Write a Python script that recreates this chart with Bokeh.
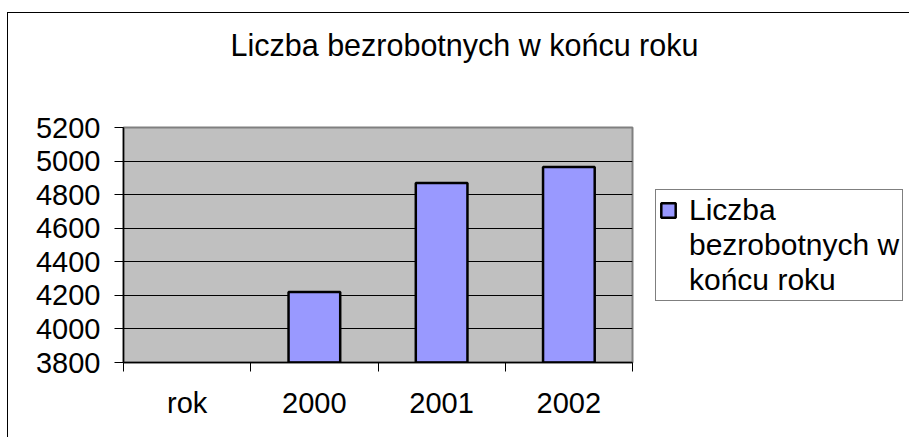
from bokeh.plotting import figure
from bokeh.models import FixedTicker, Legend, LegendItem, ColumnDataSource, Title, LinearAxis
from bokeh.embed import file_html
from bokeh.resources import INLINE

title_text = "Liczba bezrobotnych w końcu roku"
categories = ["rok", "2000", "2001", "2002"]
values = [None, 4220, 4870, 4965]
series_lines = ["Liczba", "bezrobotnych w", "końcu roku"]
y_ticks = [3800, 4000, 4200, 4400, 4600, 4800, 5000, 5200]

FONT = "Liberation Sans"
FS = "29px"
FS_BIG = "30px"
FS_TITLE = "30.5px"

xs = [i + 0.5 for i, v in enumerate(values) if v is not None]
tops = [v for v in values if v is not None]
src = ColumnDataSource(dict(x=xs, top=tops))

p = figure(title=None, frame_width=509, frame_height=235,
           x_range=(0, len(categories)), y_range=(y_ticks[0], y_ticks[-1]),
           output_backend="svg", toolbar_location=None,
           min_border_left=115, min_border_right=271,
           min_border_top=114, min_border_bottom=75)
p.styles = {"margin-top": "12px", "margin-left": "7px",
            "border-left": "1px solid black", "border-top": "1px solid black"}

p.background_fill_color = "#C0C0C0"
p.border_fill_color = "white"
p.outline_line_color = "#808080"
p.outline_line_width = 2

r = p.vbar(x="x", top="top", bottom=y_ticks[0], width=0.406, source=src,
           fill_color="#9999FF", line_color="black", line_width=2.5)
# continuation lines of the wrapped legend entry (no swatch)
blank = p.vbar(x=[], top=[], bottom=y_ticks[0], width=0.406,
               fill_alpha=0, line_alpha=0)

# axes (grab the real ones before adding the spacer)
xa = p.below[0]
ya = p.left[0]

xa.ticker = FixedTicker(ticks=[i + 0.5 for i in range(len(categories))],
                        minor_ticks=list(range(len(categories) + 1)))
xa.major_label_overrides = {i + 0.5: c for i, c in enumerate(categories)}
xa.major_tick_out = 0
xa.major_tick_in = 0
xa.minor_tick_out = 9
xa.minor_tick_in = 0
xa.minor_tick_line_color = "black"
xa.axis_line_color = "black"
xa.axis_line_width = 1.5
xa.major_label_standoff = 15
xa.major_label_text_font = FONT
xa.major_label_text_font_size = FS
xa.major_label_text_color = "black"

ya.ticker = FixedTicker(ticks=y_ticks, minor_ticks=[])
ya.major_tick_out = 9
ya.major_tick_in = 0
ya.major_tick_line_color = "black"
ya.axis_line_color = "black"
ya.axis_line_width = 1.5
ya.major_label_standoff = 14
ya.major_label_text_font = FONT
ya.major_label_text_font_size = FS
ya.major_label_text_color = "black"

p.xgrid.visible = False
p.ygrid.ticker = FixedTicker(ticks=y_ticks)
p.ygrid.grid_line_color = "black"
p.ygrid.grid_line_width = 1

# invisible spacer between plot area and title (hidden tick, empty label, no line)
spacer = LinearAxis(ticker=FixedTicker(ticks=[0], minor_ticks=[]),
                    major_label_overrides={0: ""},
                    major_tick_out=66, major_tick_in=0, minor_tick_out=0,
                    axis_line_color=None, major_tick_line_color=None,
                    minor_tick_line_color=None, major_label_standoff=0,
                    major_label_text_font_size="1px")
p.add_layout(spacer, "above")

title = Title(text=title_text, align="left", offset=107, standoff=0,
              text_font=FONT, text_font_size=FS_TITLE, text_font_style="normal",
              text_color="black")
p.add_layout(title, "above")

items = [LegendItem(label=series_lines[0], renderers=[r])] + \
        [LegendItem(label=t, renderers=[blank]) for t in series_lines[1:]]
legend = Legend(items=items,
                location=(23, 61), orientation="vertical",
                label_text_font=FONT, label_text_font_size=FS_BIG,
                label_text_color="black", label_height=20,
                glyph_width=18, glyph_height=18, padding=3, spacing=1,
                label_standoff=12, border_line_color="black", border_line_width=1,
                background_fill_color="white", background_fill_alpha=1.0,
                inactive_fill_alpha=0, margin=0)
p.add_layout(legend, "right")

open("out.html", "w").write(file_html(p, INLINE))
